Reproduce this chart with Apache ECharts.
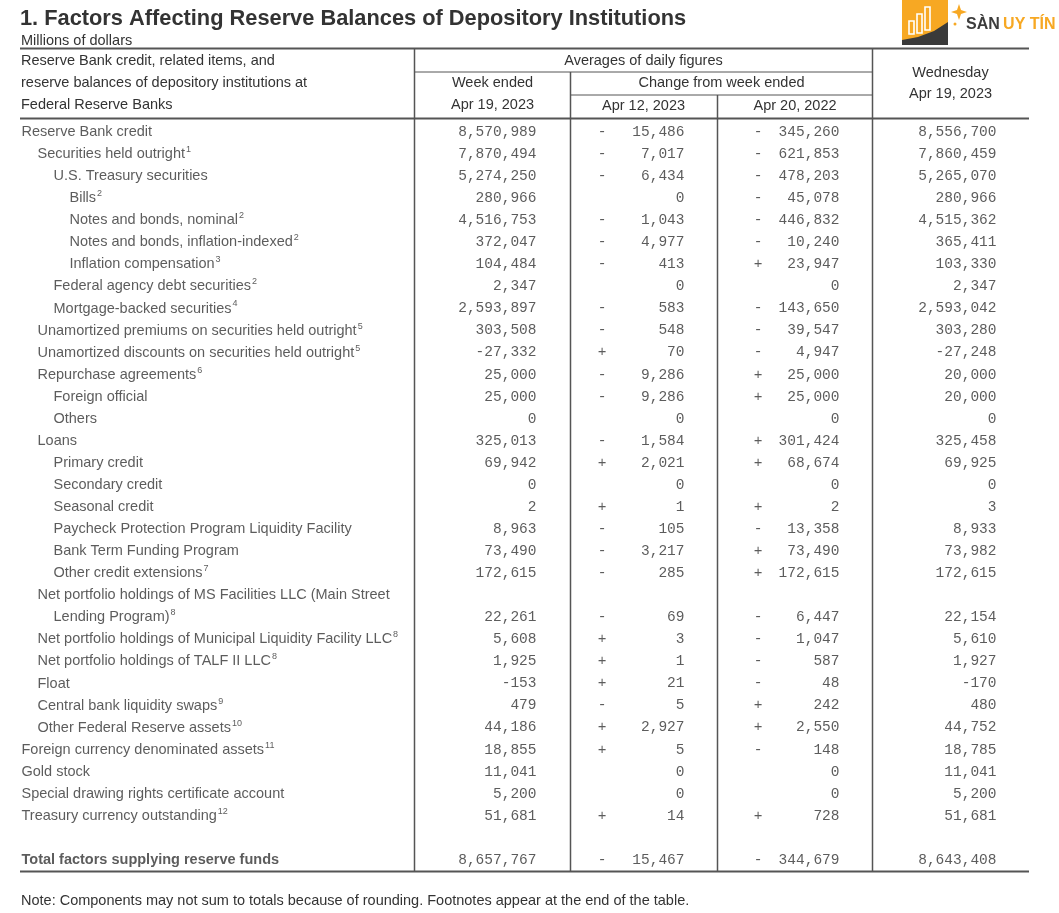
<!DOCTYPE html>
<html><head><meta charset="utf-8">
<script src="https://cdn.jsdelivr.net/npm/echarts@6/dist/echarts.min.js"></script>
<style>html,body{margin:0;padding:0;background:#fff}#c{width:1059px;height:913px}</style>
</head><body><div id="c"></div>
<script>
// ---------- DATA ----------
const title = "1. Factors Affecting Reserve Balances of Depository Institutions";
const subtitle = "Millions of dollars";
const stubHeader = ["Reserve Bank credit, related items, and", "reserve balances of depository institutions at", "Federal Reserve Banks"];
const groupHeader = "Averages of daily figures";
const weekHeader = ["Week ended", "Apr 19, 2023"];
const changeHeader = "Change from week ended";
const changeDates = ["Apr 12, 2023", "Apr 20, 2022"];
const wedHeader = ["Wednesday", "Apr 19, 2023"];
const note = "Note: Components may not sum to totals because of rounding. Footnotes appear at the end of the table.";

const rowLabels = [
  "Reserve Bank credit", "Securities held outright", "U.S. Treasury securities", "Bills",
  "Notes and bonds, nominal", "Notes and bonds, inflation-indexed", "Inflation compensation",
  "Federal agency debt securities", "Mortgage-backed securities",
  "Unamortized premiums on securities held outright", "Unamortized discounts on securities held outright",
  "Repurchase agreements", "Foreign official", "Others", "Loans", "Primary credit", "Secondary credit",
  "Seasonal credit", "Paycheck Protection Program Liquidity Facility", "Bank Term Funding Program",
  "Other credit extensions", "Net portfolio holdings of MS Facilities LLC (Main Street", "Lending Program)",
  "Net portfolio holdings of Municipal Liquidity Facility LLC", "Net portfolio holdings of TALF II LLC",
  "Float", "Central bank liquidity swaps", "Other Federal Reserve assets",
  "Foreign currency denominated assets", "Gold stock", "Special drawing rights certificate account",
  "Treasury currency outstanding", "", "Total factors supplying reserve funds"
];
const rowLevels = [0,1,2,3,3,3,3,2,2,1,1,1,2,2,1,2,2,2,2,2,2,1,2,1,1,1,1,1,0,0,0,0,0,0];
const rowFootnotes = [null,1,null,2,2,2,3,2,4,5,5,6,null,null,null,null,null,null,null,null,7,null,8,8,8,null,9,10,11,null,null,12,null,null];
const totalRow = 33;

const weekAvg = [8570989,7870494,5274250,280966,4516753,372047,104484,2347,2593897,303508,-27332,25000,25000,0,325013,69942,0,2,8963,73490,172615,null,22261,5608,1925,-153,479,44186,18855,11041,5200,51681,null,8657767];
const chgWeek = [-15486,-7017,-6434,0,-1043,-4977,-413,0,-583,-548,70,-9286,-9286,0,-1584,2021,0,1,-105,-3217,-285,null,-69,3,1,21,-5,2927,5,0,0,14,null,-15467];
const chgYear = [-345260,-621853,-478203,-45078,-446832,-10240,23947,0,-143650,-39547,-4947,25000,25000,0,301424,68674,0,2,-13358,73490,172615,null,-6447,-1047,-587,-48,242,2550,-148,0,0,728,null,-344679];
const wedValue = [8556700,7860459,5265070,280966,4515362,365411,103330,2347,2593042,303280,-27248,20000,20000,0,325458,69925,0,3,8933,73982,172615,null,22154,5610,1927,-170,480,44752,18785,11041,5200,51681,null,8643408];

// ---------- LAYOUT ----------
const SANS = "'Liberation Sans', Arial, sans-serif";
const MONO = "'Liberation Mono', 'Courier New', monospace";
const TXT = '#333';
const LINE = '#555';
const FS = 14.5;
const L = 20, R = 1029;
const colX = { c1: 414.5, c2: 570.5, c3: 717.5, c4: 872.5 };
const numRight = { week: 537, chgW: 685, chgY: 840, wed: 997 };
const signX = { chgW: 602, chgY: 758 };
const stubX = lvl => 21 + 16 * lvl;

function fmt(v) {
  const a = Math.abs(v).toString().replace(/\B(?=(\d{3})+(?!\d))/g, ',');
  return v < 0 ? '-' + a : a;
}

const chart = echarts.init(document.getElementById('c'), null, { renderer: 'canvas' });
const cats = rowLabels.map((_, i) => String(i));

function valueSeries(arr, x, signed) {
  return {
    type: 'scatter', symbolSize: 1, itemStyle: { color: 'transparent' }, silent: true,
    data: arr.map((v, i) => v === null ? null : [x, i]),
    label: {
      show: true, position: 'left', distance: 0, color: TXT, fontFamily: MONO, fontSize: FS,
      formatter: p => { const v = arr[p.dataIndex]; return signed ? fmt(Math.abs(v)) : fmt(v); }
    }
  };
}
function signSeries(arr, x) {
  return {
    type: 'scatter', symbolSize: 1, itemStyle: { color: 'transparent' }, silent: true,
    data: arr.map((v, i) => (v === null || v === 0) ? null : [x, i]),
    label: {
      show: true, position: 'inside', color: TXT, fontFamily: MONO, fontSize: FS,
      formatter: p => arr[p.dataIndex] < 0 ? '-' : '+'
    }
  };
}

const labelSeries = {
  type: 'scatter', symbolSize: 1, itemStyle: { color: 'transparent' }, silent: true,
  data: rowLabels.map((t, i) => [stubX(rowLevels[i]), i]),
  label: {
    show: true, position: 'right', distance: 0,
    formatter: p => {
      const i = p.dataIndex, t = rowLabels[i];
      if (!t) return '';
      const main = i === totalRow ? '{b|' + t + '}' : '{t|' + t + '}';
      return rowFootnotes[i] ? main + '{s|' + rowFootnotes[i] + '}' : main;
    },
    rich: {
      t: { fontFamily: SANS, fontSize: FS, color: TXT, lineHeight: 18 },
      b: { fontFamily: SANS, fontSize: FS, fontWeight: 'bold', color: TXT, lineHeight: 18 },
      s: { fontFamily: SANS, fontSize: 9, color: TXT, verticalAlign: 'top', lineHeight: 10, padding: [0, 0, 0, 1] }
    }
  }
};

function hline(x1, x2, y, w) { return { type: 'line', silent: true, shape: { x1, y1: y, x2, y2: y }, style: { stroke: LINE, lineWidth: w } }; }
function vline(x, y1, y2, w) { return { type: 'line', silent: true, shape: { x1: x, y1, x2: x, y2 }, style: { stroke: LINE, lineWidth: w } }; }
function txt(x, y, s, opts) {
  return { type: 'text', silent: true, x, y, style: Object.assign({ text: s, fill: TXT, font: FS + 'px ' + SANS, textAlign: 'left', textVerticalAlign: 'middle' }, opts || {}) };
}

const graphics = [
  txt(20, 19, title, { font: 'bold 21.8px ' + SANS, fill: '#333' }),
  txt(21, 41, subtitle),
  hline(L, R, 48.5, 2),
  hline(colX.c1, colX.c4, 72, 1),
  hline(colX.c2, colX.c4, 95, 1),
  hline(L, R, 118.5, 2),
  hline(L, R, 871.5, 2),
  vline(colX.c1, 48, 871, 1.5),
  vline(colX.c2, 72, 871, 1.5),
  vline(colX.c3, 95, 871, 1.5),
  vline(colX.c4, 48, 871, 1.5),
  txt(21, 61, stubHeader[0]), txt(21, 83, stubHeader[1]), txt(21, 105, stubHeader[2]),
  txt(643.5, 61, groupHeader, { textAlign: 'center' }),
  txt(492.5, 83, weekHeader[0], { textAlign: 'center' }),
  txt(492.5, 105, weekHeader[1], { textAlign: 'center' }),
  txt(721.5, 83, changeHeader, { textAlign: 'center' }),
  txt(643.5, 106, changeDates[0], { textAlign: 'center' }),
  txt(795, 106, changeDates[1], { textAlign: 'center' }),
  txt(950.5, 73, wedHeader[0], { textAlign: 'center' }),
  txt(950.5, 94, wedHeader[1], { textAlign: 'center' }),
  txt(21, 901, note),
  // logo
  { type: 'rect', silent: true, shape: { x: 902, y: -4, width: 46, height: 49, r: 4 }, style: { fill: '#F7A823' } },
  { type: 'polygon', silent: true, shape: { points: [[902, 45], [902, 40], [918, 37], [934, 31], [948, 22], [948, 45]] }, style: { fill: '#3a3a3a' } },
  { type: 'rect', silent: true, shape: { x: 909, y: 21, width: 5, height: 13 }, style: { fill: 'none', stroke: '#fff', lineWidth: 1.6 } },
  { type: 'rect', silent: true, shape: { x: 917, y: 14, width: 5, height: 19 }, style: { fill: 'none', stroke: '#fff', lineWidth: 1.6 } },
  { type: 'rect', silent: true, shape: { x: 925, y: 7, width: 5, height: 23 }, style: { fill: 'none', stroke: '#fff', lineWidth: 1.6 } },
  { type: 'polygon', silent: true, shape: { points: [[959, 4], [961, 10], [967, 12], [961, 14], [959, 20], [957, 14], [951, 12], [957, 10]] }, style: { fill: '#F7A823' } },
  { type: 'circle', silent: true, shape: { cx: 955, cy: 24, r: 1.5 }, style: { fill: '#F7A823' } },
  { type: 'text', silent: true, x: 966, y: 25, style: { rich: { a: { fill: '#3d3d3d', font: 'bold 16px ' + SANS }, b: { fill: '#F7A823', font: 'bold 16px ' + SANS } }, text: '{a|SÀN} {b|UY TÍN}', textVerticalAlign: 'middle' } }
];

chart.setOption({
  animation: false,
  backgroundColor: '#fff',
  grid: { left: 0, top: 121, width: 1059, height: 750, containLabel: false },
  xAxis: { type: 'value', min: 0, max: 1059, show: false },
  yAxis: { type: 'category', data: cats, inverse: true, show: false },
  graphic: graphics,
  series: [
    labelSeries,
    valueSeries(weekAvg, numRight.week, false),
    signSeries(chgWeek, signX.chgW),
    valueSeries(chgWeek, numRight.chgW, true),
    signSeries(chgYear, signX.chgY),
    valueSeries(chgYear, numRight.chgY, true),
    valueSeries(wedValue, numRight.wed, false)
  ]
});
</script></body></html>
